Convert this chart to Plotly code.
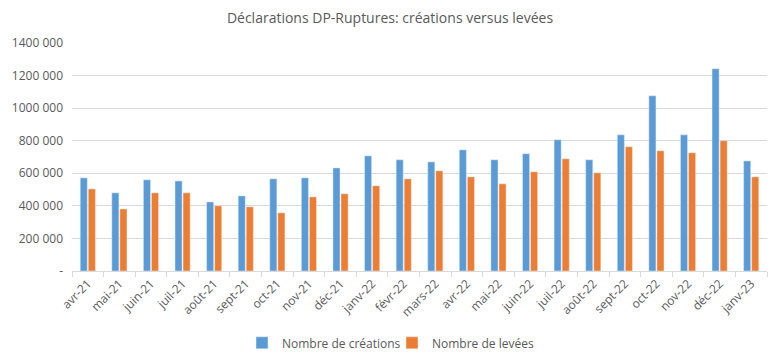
import plotly.graph_objects as go

months = ["avr-21", "mai-21", "juin-21", "juil-21", "août-21", "sept-21", "oct-21", "nov-21",
          "déc-21", "janv-22", "févr-22", "mars-22", "avr-22", "mai-22", "juin-22", "juil-22",
          "août-22", "sept-22", "oct-22", "nov-22", "déc-22", "janv-23"]
creations = [572000, 480000, 560000, 553000, 424000, 461000, 566000, 572000,
             633000, 707000, 683000, 670000, 744000, 683000, 720000, 806000,
             683000, 836000, 1076000, 836000, 1242000, 676000]
levees = [504000, 381000, 480000, 480000, 400000, 394000, 357000, 455000,
          474000, 523000, 566000, 615000, 578000, 535000, 609000, 689000,
          603000, 763000, 738000, 726000, 800000, 578000]
y_ticks = [0, 200000, 400000, 600000, 800000, 1000000, 1200000, 1400000]
y_labels = ["-", "200 000", "400 000", "600 000", "800 000", "1000 000", "1200 000", "1400 000"]

FONT = "Open Sans"
GREY = "#595959"

fig = go.Figure()
fig.add_trace(go.Bar(x=months, y=creations, name="Nombre de créations", marker_color="#5B9BD5"))
fig.add_trace(go.Bar(x=months, y=levees, name="Nombre de levées", marker_color="#ED7D31"))

fig.update_layout(
    width=780, height=359,
    margin=dict(l=72, r=13, t=43, b=88, autoexpand=False),
    paper_bgcolor="white", plot_bgcolor="white",
    barmode="group", bargap=0.49, bargroupgap=0.12,
    title=dict(text="Déclarations DP-Ruptures: créations versus levées", x=0.5, xanchor="center",
               y=1 - 18 / 359, yanchor="middle", font=dict(family=FONT, size=14, color=GREY)),
    font=dict(family=FONT, size=12, color=GREY),
    legend=dict(orientation="h", x=(242 - 72) / 695, xanchor="left", y=-0.315, yanchor="middle",
                font=dict(family=FONT, size=12, color=GREY), itemwidth=30,
                entrywidth=105, entrywidthmode="pixels"),
    showlegend=True,
)
fig.update_xaxes(tickangle=-45, ticks="outside", tickson="boundaries", ticklen=5,
                 tickcolor="#D9D9D9", showline=True, linecolor="#D9D9D9", linewidth=1,
                 automargin=False, tickfont=dict(family=FONT, size=12, color=GREY))
fig.update_yaxes(range=[0, 1400000], tickvals=y_ticks, ticktext=y_labels,
                 showgrid=True, gridcolor="#D9D9D9", gridwidth=1, zeroline=False,
                 automargin=False, tickfont=dict(family=FONT, size=12, color=GREY),
                 ticklabelstandoff=8)

fig.write_html("out.html", config={"displayModeBar": False},
               post_script="document.body.style.margin='0';")
